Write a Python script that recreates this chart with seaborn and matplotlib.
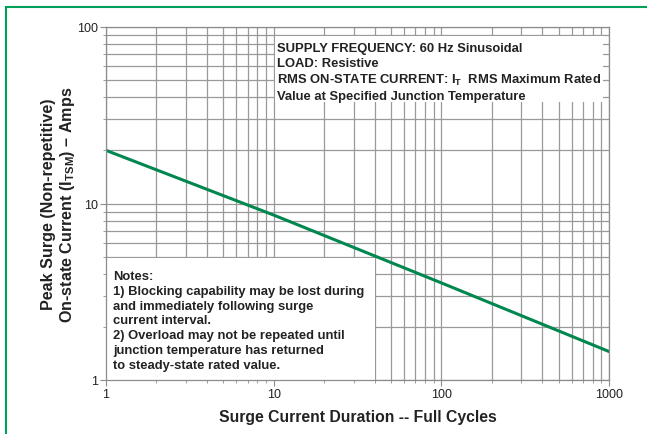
import matplotlib
matplotlib.use('Agg')
import matplotlib.pyplot as plt
import seaborn as sns
import pandas as pd
from matplotlib.patches import Rectangle
from matplotlib.ticker import LogLocator, NullFormatter, FixedLocator, FixedFormatter

# datos
ciclos = [1, 10, 100, 1000]
corriente = [20.0, 8.6, 3.55, 1.45]
x_ticks = [1, 10, 100, 1000]
x_labels = ['1', '10', '100', '1000']
y_ticks = [1, 10, 100]
y_labels = ['1', '10', '100']

df = pd.DataFrame({'ciclos': ciclos, 'corriente': corriente})

sns.set_style('white')
plt.rcParams['font.family'] = ['Liberation Sans', 'DejaVu Sans']
plt.rcParams['mathtext.fontset'] = 'custom'
plt.rcParams['mathtext.rm'] = 'Liberation Sans'
plt.rcParams['mathtext.bf'] = 'Liberation Sans:bold'

fig = plt.figure(figsize=(6.47, 4.35), dpi=100)
ax = fig.add_axes([106 / 647, 1 - 381 / 435, 503 / 647, 353 / 435])

sns.lineplot(data=df, x='ciclos', y='corriente', ax=ax, color='#00874F', linewidth=2.2)
ax.set_xscale('log')
ax.set_yscale('log')
ax.set_xlim(1, 1000)
ax.set_ylim(1, 100)

ax.xaxis.set_major_locator(FixedLocator(x_ticks))
ax.xaxis.set_major_formatter(FixedFormatter(x_labels))
ax.yaxis.set_major_locator(FixedLocator(y_ticks))
ax.yaxis.set_major_formatter(FixedFormatter(y_labels))
ax.xaxis.set_minor_locator(LogLocator(base=10, subs=range(2, 10)))
ax.yaxis.set_minor_locator(LogLocator(base=10, subs=range(2, 10)))
ax.xaxis.set_minor_formatter(NullFormatter())
ax.yaxis.set_minor_formatter(NullFormatter())

ax.grid(True, which='both', color='#999999', linewidth=0.9)
ax.set_axisbelow(True)
for s in ax.spines.values():
    s.set_color('#8c8c8c')
    s.set_linewidth(0.9)
ax.tick_params(which='major', length=4, color='#8c8c8c', labelsize=9, labelcolor='#222222', pad=2)
ax.tick_params(which='minor', length=2, color='#8c8c8c')
ax.tick_params(axis='x', which='both', bottom=True)
ax.tick_params(axis='y', which='both', left=True)

ax.set_xlabel('Surge Current Duration -- Full Cycles', fontsize=11.3, fontweight='bold',
              color='#222222', labelpad=6)
ax.set_ylabel('Peak Surge (Non-repetitive)\nOn-state Current (I$_{\\mathbf{TSM}}$) \u2013 Amps',
              fontsize=11.6, fontweight='bold', color='#222222', linespacing=1.1)
ax.yaxis.set_label_coords(-0.058, 0.5)

# cajas blancas de texto
ax.add_patch(Rectangle((10.2, 37.5), 920 - 10.2, 89 - 37.5, facecolor='white', edgecolor='none', zorder=1))
ax.add_patch(Rectangle((1, 1), 40 - 1, 4.9 - 1, facecolor='white', edgecolor='none', zorder=1))

texto_sup = ('SUPPLY FREQUENCY: 60 Hz Sinusoidal\n'
             'LOAD: Resistive\n'
             'RMS ON-STATE CURRENT: I$_{\\mathbf{T}}$  RMS Maximum Rated\n'
             'Value at Specified Junction Temperature')
fig.text(277 / 647, 1 - 43 / 435, texto_sup, fontsize=9.4, fontweight='bold', color='#222222',
         va='top', ha='left', linespacing=1.31)

notas = ('Notes:\n'
         '1) Blocking capability may be lost during\n'
         'and immediately following surge\n'
         'current interval.\n'
         '2) Overload may not be repeated until\n'
         'junction temperature has returned\n'
         'to steady-state rated value.')
fig.text(113 / 647, 1 - 271 / 435, notas, fontsize=9.4, fontweight='bold', color='#222222',
         va='top', ha='left', linespacing=1.31)

# borde verde
fig.patches.append(Rectangle((6 / 647, -0.05), 1.1, 1 - 8 / 435 + 0.05, transform=fig.transFigure,
                             fill=False, edgecolor='#00A05A', linewidth=1.5))

plt.savefig('out.png', dpi=100)
plt.close()
